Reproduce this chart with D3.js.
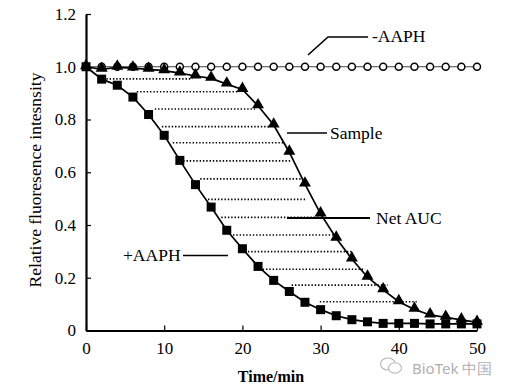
<!DOCTYPE html>
<html><head><meta charset="utf-8">
<script src="https://cdn.jsdelivr.net/npm/d3@7"></script>
<style>body{margin:0;background:#fff}svg{display:block}</style>
</head><body>
<svg id="c" width="517" height="390"></svg>
<script>
const times = d3.range(0, 51, 2);
const noAAPH = [1,1,1,1,1,1,1,1,1,1,1,1,1,1,1,1,1,1,1,1,1,1,1,1,1,1];
const sample = [1.0,0.99,0.998,0.995,0.99,0.985,0.976,0.965,0.956,0.934,0.914,0.852,0.779,0.676,0.555,0.442,0.35,0.271,0.202,0.154,0.109,0.08,0.059,0.05,0.04,0.031];
const plusAAPH = [1.0,0.953,0.93,0.885,0.819,0.74,0.645,0.553,0.468,0.38,0.31,0.243,0.19,0.148,0.107,0.079,0.056,0.041,0.033,0.027,0.027,0.027,0.025,0.025,0.025,0.025];
const aucLevels = [0.954,0.905,0.84,0.773,0.712,0.643,0.575,0.497,0.429,0.362,0.299,0.232,0.172,0.109];
const aucStart = [2.6,6.5,8.8,9.7,11.1,12.0,14.6,15.6,17.3,18.8,20.7,22.6,26.3,29.9];
const aucEnd = [13.6,19.6,21.6,23.5,25.2,26.1,27.6,28.2,29.9,31.6,34.1,35.7,38.6,42.3];
const xTicks = [0,10,20,30,40,50];
const yTicks = [0,0.2,0.4,0.6,0.8,1.0,1.2];

const svg = d3.select("#c");
const x = d3.scaleLinear([0,50],[86,477]);
const y = d3.scaleLinear([0,1.2],[330.5,14]);
const serif = "'Liberation Serif','Times New Roman',serif";

// dotted AUC lines
svg.append("g").selectAll("line").data(aucLevels).join("line")
  .attr("x1",(d,i)=>x(aucStart[i])).attr("x2",(d,i)=>x(aucEnd[i]))
  .attr("y1",d=>y(d)).attr("y2",d=>y(d))
  .attr("stroke","#000").attr("stroke-width",1.6).attr("stroke-dasharray","1.4,1.9");

// axes
const ya = svg.append("g").attr("transform","translate(86,0)")
  .call(d3.axisLeft(y).tickValues(yTicks).tickSize(-5).tickSizeOuter(0).tickPadding(10)
    .tickFormat(d=>d===0?"0":d3.format(".1f")(d)));
const xa = svg.append("g").attr("transform","translate(0,330.5)")
  .call(d3.axisBottom(x).tickValues(xTicks).tickSize(-5).tickSizeOuter(0).tickPadding(11));
[ya,xa].forEach(a=>{
  a.select(".domain").attr("stroke","#000").attr("stroke-width",2.2);
  a.selectAll(".tick line").attr("stroke","#000").attr("stroke-width",1.2);
  a.selectAll("text").attr("font-family",serif).attr("font-size",17).attr("fill","#000");
});

// lines
const pts = arr => arr.map((v,i)=>[times[i],v]);
const line = d3.line().x(d=>x(d[0])).y(d=>y(d[1]));
svg.append("path").attr("d",line(pts(noAAPH))).attr("fill","none").attr("stroke","#444").attr("stroke-width",1);
svg.append("path").attr("d",line(pts(sample))).attr("fill","none").attr("stroke","#000").attr("stroke-width",1.7);
svg.append("path").attr("d",line(pts(plusAAPH))).attr("fill","none").attr("stroke","#000").attr("stroke-width",1.7);

// markers
svg.append("g").selectAll("circle").data(pts(noAAPH)).join("circle")
  .attr("cx",d=>x(d[0])).attr("cy",d=>y(d[1])).attr("r",3.5)
  .attr("fill","#fff").attr("stroke","#000").attr("stroke-width",1.5);
const tri = d3.symbol().type(d3.symbolTriangle).size(62);
svg.append("g").selectAll("path").data(pts(sample)).join("path")
  .attr("d",tri).attr("transform",d=>`translate(${x(d[0])},${y(d[1])-1})`).attr("fill","#000");
svg.append("g").selectAll("rect").data(pts(plusAAPH)).join("rect")
  .attr("x",d=>x(d[0])-4.5).attr("y",d=>y(d[1])-4.5).attr("width",9).attr("height",9).attr("fill","#000");

// annotations
const ann = svg.append("g").attr("stroke","#000").attr("fill","none");
ann.append("polyline").attr("points","308,55 328,37 368,37").attr("stroke-width",1.6);
ann.append("line").attr("x1",287).attr("x2",327).attr("y1",133).attr("y2",133).attr("stroke-width",1.6);
ann.append("line").attr("x1",287).attr("x2",370).attr("y1",218).attr("y2",218).attr("stroke-width",2);
ann.append("line").attr("x1",183).attr("x2",228).attr("y1",255.5).attr("y2",255.5).attr("stroke-width",1.6);

const txt = (s,xx,yy,opt={}) => svg.append("text").attr("x",xx).attr("y",yy)
  .attr("font-family",serif).attr("font-size",opt.size||17.5).attr("font-weight",opt.bold?"bold":"normal")
  .attr("text-anchor",opt.anchor||"start").attr("fill","#000").text(s);
txt("-AAPH",372,42);
txt("Sample",330,139);
txt("Net AUC",376,224);
txt("+AAPH",123,261);
txt("Time/min",271,382,{bold:true,size:16,anchor:"middle"});
svg.append("text").attr("transform","translate(41,180) rotate(-90)")
  .attr("text-anchor","middle").attr("font-family",serif).attr("font-size",17.5)
  .attr("fill","#000").text("Relative fluoresence intesnsity");

// watermark
const wm = svg.append("g").attr("stroke","#b5b5b5").attr("fill","#fff").attr("stroke-width",1.1);
wm.append("ellipse").attr("cx",388).attr("cy",364).attr("rx",7.5).attr("ry",6);
wm.append("ellipse").attr("cx",395).attr("cy",368).attr("rx",6.5).attr("ry",5.2);
svg.append("text").attr("x",412).attr("y",374).attr("font-family","'Noto Sans',sans-serif")
  .attr("font-size",15).attr("fill","#b0b0b0").text("BioTek 中国");
</script>
</body></html>
